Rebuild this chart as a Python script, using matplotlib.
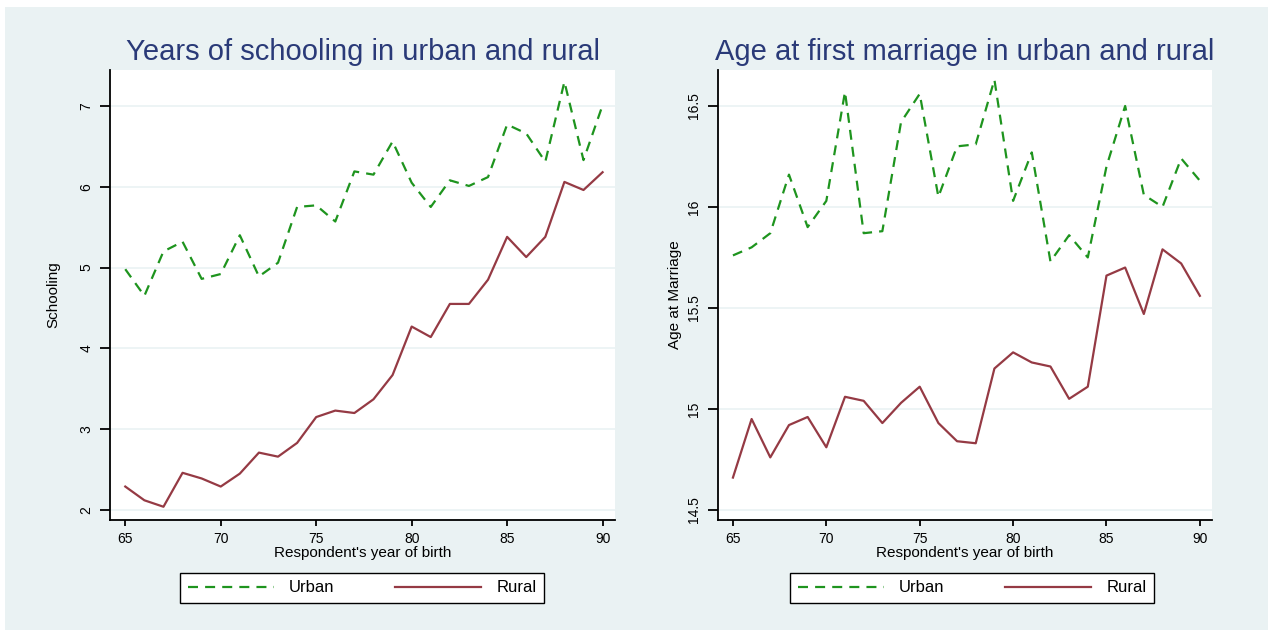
import numpy as np
import matplotlib.pyplot as plt
from matplotlib.patches import Rectangle

plt.rcParams['font.family'] = ['Liberation Sans', 'DejaVu Sans']

years = np.arange(65, 91)

# Years of schooling
school_urban = [4.98, 4.65, 5.20, 5.32, 4.86, 4.92, 5.40, 4.89, 5.06, 5.75,
                5.77, 5.57, 6.19, 6.15, 6.56, 6.05, 5.75, 6.08, 6.01, 6.12,
                6.77, 6.66, 6.31, 7.30, 6.33, 7.01]
school_rural = [2.29, 2.12, 2.04, 2.46, 2.39, 2.29, 2.45, 2.71, 2.66, 2.83,
                3.15, 3.23, 3.20, 3.37, 3.67, 4.27, 4.14, 4.55, 4.55, 4.85,
                5.38, 5.13, 5.38, 6.06, 5.96, 6.18]

# Age at first marriage
marr_urban = [15.76, 15.80, 15.87, 16.16, 15.90, 16.03, 16.57, 15.87, 15.88, 16.42,
              16.56, 16.05, 16.30, 16.31, 16.63, 16.03, 16.27, 15.73, 15.86, 15.75,
              16.20, 16.50, 16.06, 16.00, 16.24, 16.13]
marr_rural = [14.66, 14.95, 14.76, 14.92, 14.96, 14.81, 15.06, 15.04, 14.93, 15.03,
              15.11, 14.93, 14.84, 14.83, 15.20, 15.28, 15.23, 15.21, 15.05, 15.11,
              15.66, 15.70, 15.47, 15.79, 15.72, 15.56]

xticks = [65, 70, 75, 80, 85, 90]
school_ticks = [2, 3, 4, 5, 6, 7]
marr_ticks = [14.5, 15, 15.5, 16, 16.5]
marr_ticklabels = ['14.5', '15', '15.5', '16', '16.5']

bg = '#eaf2f3'
green = '#1e941e'
maroon = '#953a44'
navy = '#2a3a78'

W, H = 1273, 635
fig = plt.figure(figsize=(W / 100, H / 100), dpi=100)
fig.patches.append(Rectangle((5 / W, 5 / H), 1 - 10 / W, 1 - 12 / H,
                             transform=fig.transFigure, facecolor=bg,
                             edgecolor='none', zorder=-10))


def panel(rect, urban, rural, yticks, yticklabels, ylim, title, ylabel,
          ylabel_x, leg_x):
    ax = fig.add_axes(rect)
    ax.plot(years, urban, color=green, lw=1.6, dashes=(4.5, 3.2), label='Urban')
    ax.plot(years, rural, color=maroon, lw=1.6, label='Rural')
    ax.set_xlim(64.2, 90.65)
    ax.set_ylim(*ylim)
    ax.set_xticks(xticks)
    ax.set_yticks(yticks)
    ax.set_yticklabels(yticklabels, rotation=90, va='center')
    ax.grid(axis='y', color=bg, lw=1.2)
    ax.set_axisbelow(True)
    for s in ['top', 'right']:
        ax.spines[s].set_visible(False)
    for s in ['left', 'bottom']:
        ax.spines[s].set_linewidth(1.3)
    ax.tick_params(direction='out', width=1.3, labelsize=10)
    ax.tick_params(axis='y', length=7, pad=5)
    ax.tick_params(axis='x', length=4.5, pad=4)
    ax.set_title(title, fontsize=21, color=navy, pad=7)
    ax.set_xlabel("Respondent's year of birth", fontsize=11, labelpad=0)
    ax.set_ylabel(ylabel, fontsize=11)
    ax.yaxis.set_label_coords(ylabel_x, 0.5)
    fig.legend(handles=ax.get_lines(), ncol=2, loc='center',
               bbox_to_anchor=(leg_x, 1 - 588 / H), frameon=True,
               fancybox=False, edgecolor='black', framealpha=1,
               fontsize=12, handlelength=5.2, handletextpad=0.9,
               columnspacing=3.6, borderpad=0.45, borderaxespad=0)
    return ax


ax1 = panel([110 / W, 1 - 520 / H, 505 / W, 450 / H], school_urban, school_rural,
            school_ticks, [str(t) for t in school_ticks], (1.876, 7.445),
            'Years of schooling in urban and rural', 'Schooling', -0.098, 362 / W)
ax2 = panel([718 / W, 1 - 520 / H, 494 / W, 450 / H], marr_urban, marr_rural,
            marr_ticks, marr_ticklabels, (14.45, 16.678),
            'Age at first marriage in urban and rural', 'Age at Marriage',
            -0.072, 972 / W)

fig.savefig('out.png', dpi=100)
